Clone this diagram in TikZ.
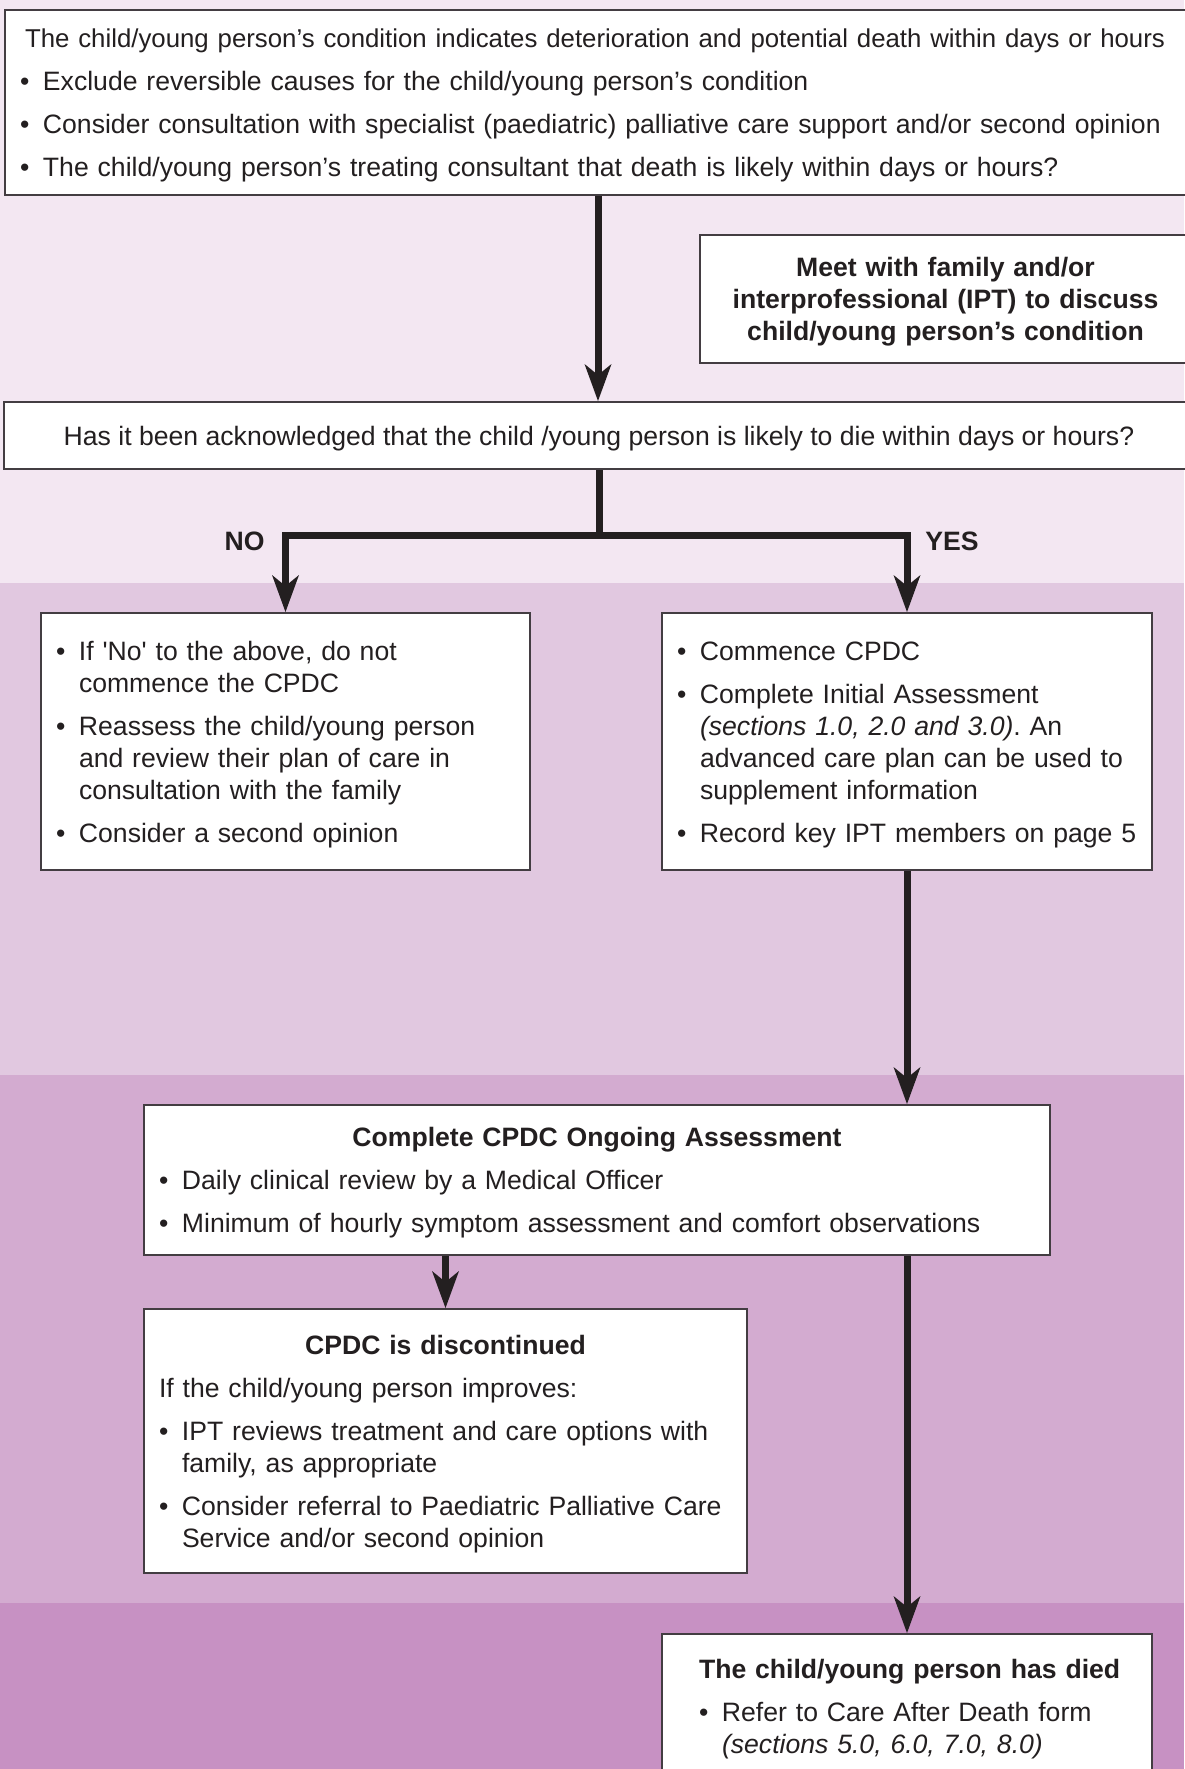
\documentclass[tikz,border=0pt]{standalone}
\usepackage{fontspec}
\setmainfont{Liberation Sans}
\usetikzlibrary{arrows.meta,calc}
\frenchspacing

\definecolor{bandA}{HTML}{F3E7F2}
\definecolor{bandB}{HTML}{E1C8E0}
\definecolor{bandC}{HTML}{D3ABD0}
\definecolor{bandD}{HTML}{C791C3}
\definecolor{inkdark}{HTML}{231F20}
\definecolor{boxline}{HTML}{433D42}

\newlength{\bulletgap}\setlength{\bulletgap}{23pt}
\newcommand{\bodysize}{\fontsize{26.6}{32}\selectfont}
\newcommand{\bitem}[1]{\hangindent=\bulletgap\hangafter=1\leavevmode\makebox[\bulletgap][l]{\textbullet}#1\par}

\tikzset{every picture/.style={line width=0.75pt}}
\tikzset{
	panel/.style={draw=boxline, line width=2pt, fill=white, anchor=north west,
		inner xsep=15pt, inner ysep=0pt, text=inkdark, font=\bodysize,
		execute at begin node={\setlength{\parskip}{11pt}\setlength{\parindent}{0pt}\raggedright\rule{0pt}{25pt}}},
	flow/.style={draw=inkdark, line width=7pt},
	flowtip/.style={flow, -{Stealth[length=37pt,width=27pt,inset=11pt,line width=0pt]}},
	branchlabel/.style={font=\bodysize\bfseries, text=inkdark, inner sep=0pt}
}

\begin{document}
\begin{tikzpicture}[x=1pt,y=1pt,yscale=-1,xscale=1]
	\useasboundingbox (0,0) rectangle (1184,1769);

	%Shape: background bands
	\fill[bandA] (0,0) rectangle (1184,583);
	\fill[bandB] (0,583) rectangle (1184,1075);
	\fill[bandC] (0,1075) rectangle (1184,1603);
	\fill[bandD] (0,1603) rectangle (1184,1769);

	%Box: condition
	\node[panel, text width=1156pt, minimum width=1186pt, minimum height=185pt] (topbox) at (4,9) {%
		\hspace*{5pt}{\fontsize{25.8}{32}\selectfont The child/young person’s condition indicates deterioration and potential death within days or hours}\par
		\bitem{Exclude reversible causes for the child/young person’s condition}
		\bitem{Consider consultation with specialist (paediatric) palliative care support and/or second opinion}
		\bitem{The child/young person’s treating consultant that death is likely within days or hours?}};
	%Box: meet family
	\node[panel, text width=461pt, minimum width=491pt, minimum height=128pt] (meetbox) at (699,234) {%
		\centering\bfseries Meet with family and/or\\ interprofessional (IPT) to discuss\\ child/young person’s condition\par};
	%Box: acknowledged
	\node[panel, minimum width=1190pt, minimum height=67pt] (askbox) at (3,401)
		{Has it been acknowledged that the child /young person is likely to die within days or hours?};
	%Box: no
	\node[panel, text width=459pt, minimum width=489pt, minimum height=257pt] (nobox) at (40,612) {%
		\bitem{If \textquotesingle No\textquotesingle\ to the above, do not\newline commence the CPDC}
		\bitem{Reassess the child/young person\newline and review their plan of care in\newline consultation with the family}
		\bitem{Consider a second opinion}};
	%Box: yes
	\node[panel, text width=460pt, minimum width=490pt, minimum height=257pt] (yesbox) at (661,612) {%
		\bitem{Commence CPDC}
		\bitem{Complete Initial Assessment\newline \textit{(sections 1.0, 2.0 and 3.0)}. An\newline advanced care plan can be used to\newline supplement information}
		\bitem{Record key IPT members on page 5}};
	%Box: ongoing assessment
	\node[panel, text width=876pt, minimum width=906pt, minimum height=150pt] (ongoing) at (143,1104) {%
		{\centering\bfseries Complete CPDC Ongoing Assessment\par}
		\bitem{Daily clinical review by a Medical Officer}
		\bitem{Minimum of hourly symptom assessment and comfort observations}};
	%Box: discontinued
	\node[panel, text width=573pt, minimum width=603pt, minimum height=264pt] (discbox) at (143,1308) {%
		{\centering\bfseries CPDC is discontinued\par}
		If the child/young person improves:\par
		\bitem{IPT reviews treatment and care options with\newline family, as appropriate}
		\bitem{Consider referral to Paediatric Palliative Care\newline Service and/or second opinion}};
	%Box: died
	\node[panel, text width=460pt, minimum width=490pt, minimum height=145pt] (diedbox) at (661,1633) {%
		\leftskip=22pt\textbf{The child/young person has died}\par
		\bitem{Refer to Care After Death form\newline \textit{(sections 5.0, 6.0, 7.0, 8.0)}}};

	%Straight Lines: connectors
	\draw[flowtip] (topbox.south) -- (topbox.south |- askbox.north);
	\coordinate (split) at ($(askbox.south)+(0,65)$);
	\draw[flow] (askbox.south) -- (split);
	\draw[flowtip] (split) -| (nobox.north);
	\draw[flowtip] (split) -| (yesbox.north);
	\draw[flowtip] (yesbox.south) -- (yesbox.south |- ongoing.north);
	\draw[flowtip] (ongoing.south -| discbox.north) -- (discbox.north);
	\draw[flowtip] (ongoing.south -| diedbox.north) -- (diedbox.north);

	% Text Node
	\node[branchlabel, anchor=east] (nolabel) at (265,541) {NO};
	% Text Node
	\node[branchlabel, anchor=west] (yeslabel) at (925,541) {YES};

\end{tikzpicture}
\end{document}
